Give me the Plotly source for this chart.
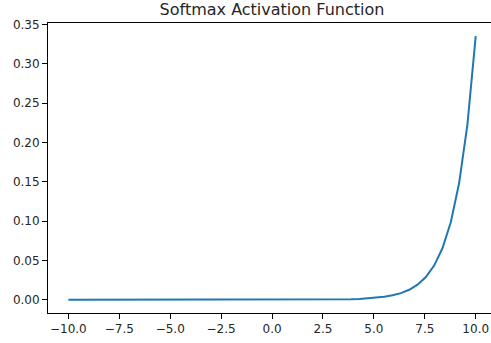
import plotly.graph_objects as go

x_values = [-10.0, -9.592, -9.184, -8.776, -8.367, -7.959, -7.551, -7.143, -6.735, -6.327,
            -5.918, -5.510, -5.102, -4.694, -4.286, -3.878, -3.469, -3.061, -2.653, -2.245,
            -1.837, -1.429, -1.020, -0.612, -0.204, 0.204, 0.612, 1.020, 1.429, 1.837,
            2.245, 2.653, 3.061, 3.469, 3.878, 4.286, 4.694, 5.102, 5.510, 5.918,
            6.327, 6.735, 7.143, 7.551, 7.959, 8.367, 8.776, 9.184, 9.592, 10.0]

y_values = [0.0, 0.0, 0.0, 0.0, 0.0, 0.0, 0.0, 0.0, 0.0, 0.0,
            0.0, 0.0, 0.0, 0.0, 0.0, 0.0, 0.0, 0.0, 0.0, 0.0,
            0.0, 0.0, 0.0, 0.0, 0.00001, 0.00002, 0.00003, 0.00004, 0.00006, 0.0001,
            0.00014, 0.00022, 0.00033, 0.00049, 0.00074, 0.0011, 0.0017, 0.0025, 0.0038, 0.0057,
            0.0085, 0.0128, 0.0193, 0.0290, 0.0435, 0.0655, 0.0985, 0.1481, 0.2228, 0.3351]

x_ticks = [-10.0, -7.5, -5.0, -2.5, 0.0, 2.5, 5.0, 7.5, 10.0]
y_ticks = [0.00, 0.05, 0.10, 0.15, 0.20, 0.25, 0.30, 0.35]
title_text = "Softmax Activation Function"

font_family = "DejaVu Sans"
text_color = "#262626"

W, H = 491, 343

fig = go.Figure()
fig.add_trace(go.Scatter(x=x_values, y=y_values, mode="lines",
                         line=dict(color="#1f77b4", width=2), hoverinfo="skip"))

fig.update_layout(
    width=W, height=H,
    margin=dict(l=48, r=0, t=23, b=30, autoexpand=False),
    paper_bgcolor="white", plot_bgcolor="white",
    showlegend=False,
    font=dict(family=font_family, size=12, color=text_color),
    title=dict(text=title_text, x=272 / W, xanchor="center", xref="container",
               y=1 - 9.5 / H, yanchor="middle", yref="container",
               font=dict(family=font_family, size=16, color=text_color)),
)

fig.update_xaxes(range=[-11, 10.75], tickvals=x_ticks, tickformat=".1f", automargin=False,
                 showgrid=False, zeroline=False, showline=True, linecolor="black",
                 linewidth=1, mirror=True, ticks="outside", ticklen=5, tickcolor="black",
                 tickwidth=1, tickfont=dict(size=12, color=text_color))
fig.update_yaxes(range=[-0.01676, 0.35189], tickvals=y_ticks, tickformat=".2f", automargin=False,
                 showgrid=False, zeroline=False, showline=True, linecolor="black",
                 linewidth=1, mirror=False, ticks="outside", ticklen=5, tickcolor="black",
                 tickwidth=1, tickfont=dict(size=12, color=text_color))

fig.write_html("out.html",
               config={"displayModeBar": False, "staticPlot": True},
               post_script="document.body.style.margin='0px';document.body.style.overflow='hidden';")
